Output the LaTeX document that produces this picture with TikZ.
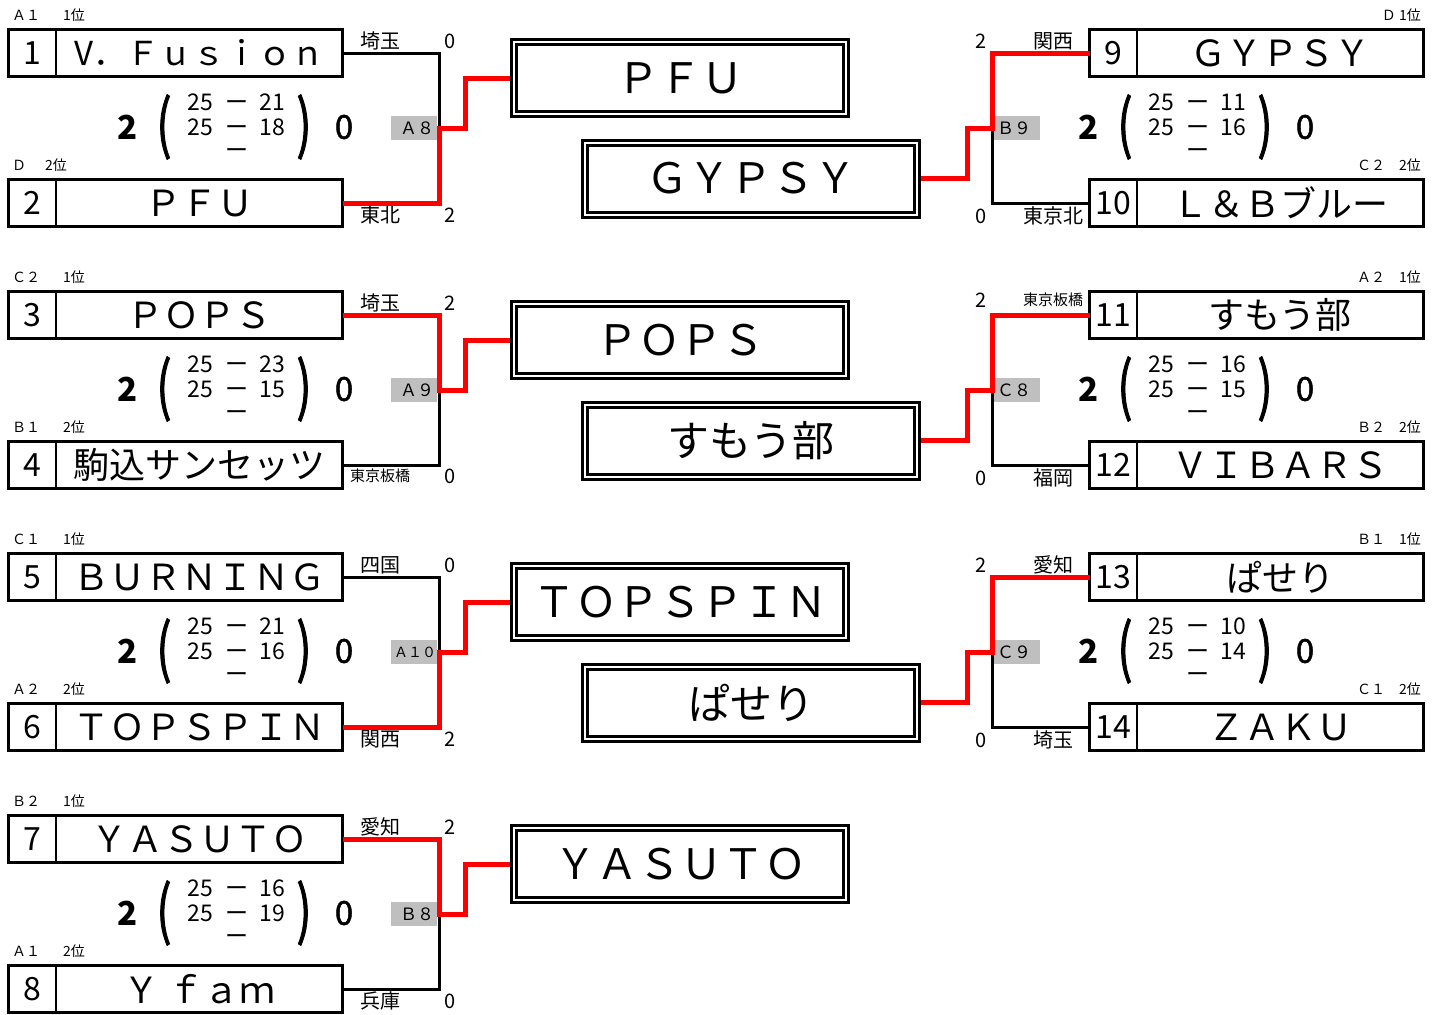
\documentclass[tikz,border=0pt]{standalone}
\usepackage{fontspec}
\setmainfont{Noto Sans CJK JP}
\usetikzlibrary{positioning}
\tikzset{
    numcell/.style={draw, line width=2.5pt, outer sep=0pt, inner sep=0pt, minimum width=47.5pt, minimum height=47pt, anchor=west, font=\fontsize{32}{32}\selectfont},
    namecell/.style={draw, line width=2.5pt, outer sep=0pt, inner sep=0pt, minimum width=286.5pt, minimum height=47pt, font=\fontsize{36}{36}\selectfont},
    result/.style={draw, double, line width=3pt, double distance=2pt, outer sep=0pt, inner sep=0pt, minimum width=332pt, minimum height=72pt, font=\fontsize{42}{42}\selectfont},
    seed/.style={inner sep=0pt, font=\fontsize{14}{14}\selectfont},
    pref/.style={inner sep=0pt, font=\fontsize{20}{20}\selectfont},
    setpt/.style={inner sep=0pt, font=\fontsize{23}{23}\selectfont},
    bigpt/.style={inner sep=0pt, font=\fontsize{33}{33}\selectfont},
    paren/.style={inner sep=0pt, yscale=1.45, font=\fontsize{44}{44}\selectfont\addfontfeature{FakeBold=2}},
    matchtag/.style={fill=black!25, text width=40pt, inner sep=3pt, minimum height=24pt, font=\fontsize{17}{17}\selectfont},
    lose/.style={line width=3pt},
    win/.style={line width=5pt, red, shorten >=4pt},
}

\begin{document}
\begin{tikzpicture}[x=1pt, y=-1pt]
    \useasboundingbox (0,0) rectangle (1436,1015);

    % Squadre a sinistra
    \foreach \n/\y/\nome in {1/53/{\fontsize{33}{33}\selectfont V．Ｆｕｓｉｏｎ}, 2/203/ＰＦＵ, 3/315/ＰＯＰＳ, 4/465/駒込サンセッツ,
                             5/577/ＢＵＲＮＩＮＧ, 6/727/ＴＯＰＳＰＩＮ, 7/839/ＹＡＳＵＴＯ, 8/989/{Ｙ ｆａｍ}}{
        \node[numcell] (n\n) at (8.5,\y) {\n};
        \node[namecell, right=0pt of n\n] (t\n) {\nome};
    }
    % Squadre a destra
    \foreach \n/\y/\nome in {9/53/ＧＹＰＳＹ, 10/203/Ｌ＆Ｂブルー, 11/315/すもう部, 12/465/ＶＩＢＡＲＳ, 13/577/ぱせり, 14/727/ＺＡＫＵ}{
        \node[numcell] (n\n) at (1089.5,\y) {\n};
        \node[namecell, right=0pt of n\n] (t\n) {\nome};
    }

    % Girone e posizione
    \foreach \n/\y/\g/\xr/\r in {1/15/Ａ１/63/1位, 2/165/Ｄ/45/2位, 3/277/Ｃ２/63/1位, 4/427/Ｂ１/63/2位,
                                 5/539/Ｃ１/63/1位, 6/689/Ａ２/63/2位, 7/801/Ｂ２/63/1位, 8/951/Ａ１/63/2位}{
        \node[seed, anchor=west] (g\n) at (12,\y) {\g};
        \node[seed, anchor=west] (r\n) at (\xr,\y) {\r};
    }
    \foreach \n/\y/\g in {9/15/Ｄ 1位, 10/165/Ｃ２　2位, 11/277/Ａ２　1位, 12/427/Ｂ２　2位, 13/539/Ｂ１　1位, 14/689/Ｃ１　2位}
        \node[seed, anchor=east] (g\n) at (1421,\y) {\g};

    % Provenienza e set vinti
    \foreach \n/\y/\reg/\sc in {1/41/埼玉/0, 2/215/東北/2, 3/303/埼玉/2, 4/476/{\fontsize{15}{15}\selectfont 東京板橋}/0,
                                5/565/四国/0, 6/739/関西/2, 7/827/愛知/2, 8/1001/兵庫/0}{
        \node[pref] (p\n) at (380,\y) {\reg};
        \node[pref] (s\n) at (450,\y) {\sc};
    }
    \foreach \n/\y/\reg/\sc in {9/41/関西/2, 10/216/東京北/0, 11/300/{\fontsize{15}{15}\selectfont 東京板橋}/2, 12/478/福岡/0,
                                13/565/愛知/2, 14/740/埼玉/0}{
        \node[pref] (p\n) at (1053,\y) {\reg};
        \node[pref] (s\n) at (981,\y) {\sc};
    }

    % Punteggi dei set
    \foreach \x/\y/\a/\b [count=\i] in {0/127/21/18, 0/389/23/15, 0/651/21/16, 0/913/16/19,
                                        961/127/11/16, 961/389/16/15, 961/651/10/14}{
        \node[bigpt, font=\fontsize{33}{33}\selectfont\bfseries] (vw\i) at ({128+\x},\y) {2};
        \node[paren] (pl\i) at ({164+\x},{\y}) {(};
        \node[paren] (pr\i) at ({304+\x},{\y}) {)};
        \node[bigpt, font=\fontsize{33}{33}\selectfont\addfontfeature{FakeBold=1.5}] (vl\i) at ({344+\x},\y) {0};
        \node[setpt] (sa\i) at ({200+\x},{\y-25}) {25};
        \node[setpt] (da\i) at ({237+\x},{\y-21}) {ー};
        \node[setpt] (sb\i) at ({272+\x},{\y-25}) {\a};
        \node[setpt] (sc\i) at ({200+\x},\y) {25};
        \node[setpt] (db\i) at ({237+\x},{\y+4}) {ー};
        \node[setpt] (sd\i) at ({272+\x},\y) {\b};
        \node[setpt] (dc\i) at ({237+\x},{\y+27}) {ー};
    }

    % Vincitori
    \foreach \b/\nome in {0/ＰＦＵ, 1/ＰＯＰＳ, 2/ＴＯＰＳＰＩＮ, 3/ＹＡＳＵＴＯ}
        \node[result] (w\b) at (680,{78+262*\b}) {\nome};
    \foreach \b/\nome in {0/ＧＹＰＳＹ, 1/すもう部, 2/ぱせり}
        \node[result] (l\b) at (751,{178.5+262*\b}) {\nome};

    % Incontri a sinistra
    \foreach \b/\tag/\lo/\wi in {0/Ａ８/1/2, 1/Ａ９/4/3, 2/{\fontsize{14}{14}\selectfont Ａ１０}/5/6, 3/Ｂ８/8/7}{
        \node[matchtag, align=right] (m\b) at (414,{128+262*\b}) {\tag};
        \coordinate (j\b) at (439,{128+262*\b});
        \coordinate (k\b) at (465,{128+262*\b});
        \draw[lose] (t\lo.east) -| (j\b);
        \draw[win] (t\wi.east) -| (j\b) -- (k\b) |- (w\b.west);
    }
    % Incontri a destra
    \foreach \b/\tag/\lo/\wi in {0/Ｂ９/10/9, 1/Ｃ８/12/11, 2/Ｃ９/14/13}{
        \node[matchtag, align=left] (mr\b) at (1017,{128+262*\b}) {\tag};
        \coordinate (jr\b) at (992,{128+262*\b});
        \coordinate (kr\b) at (967,{128+262*\b});
        \draw[lose] (n\lo.west) -| (jr\b);
        \draw[win] (n\wi.west) -| (jr\b) -- (kr\b) |- (l\b.east);
    }
\end{tikzpicture}
\end{document}
